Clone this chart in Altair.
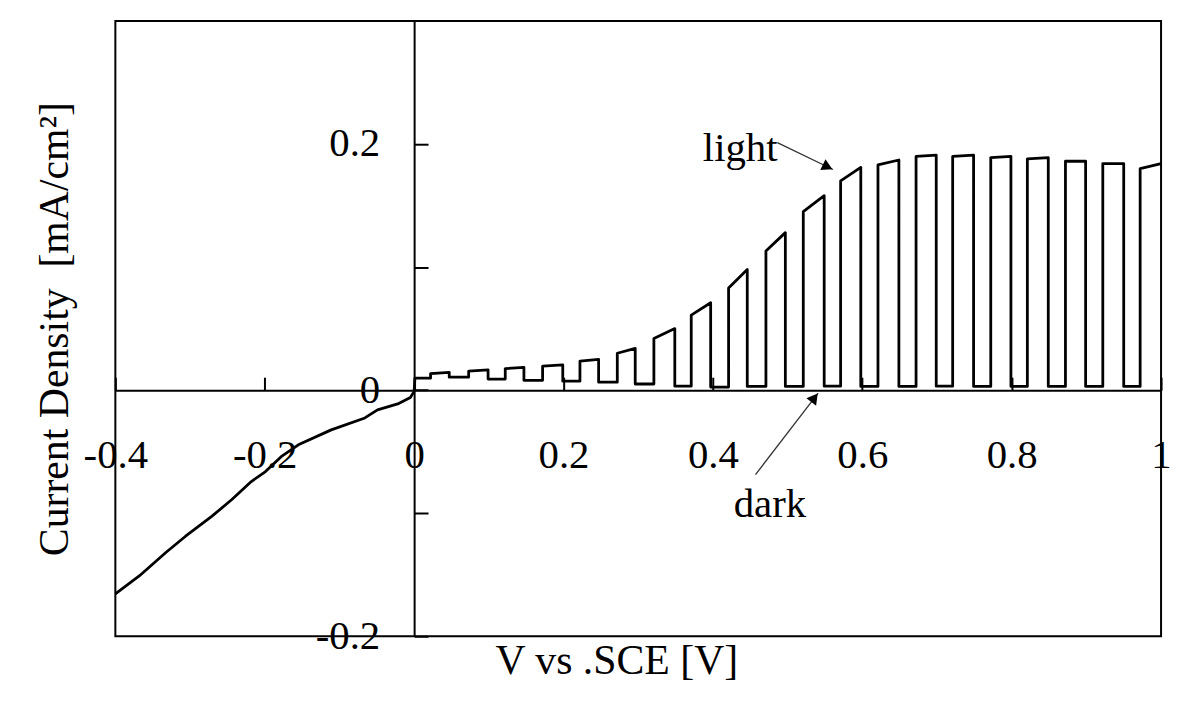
import altair as alt
import pandas as pd

# ---- data ----
# dark sweep below 0 V (continuous branch)
branch_v = [-0.400, -0.368, -0.332, -0.306, -0.271, -0.244, -0.218, -0.199, -0.178,
            -0.155, -0.111, -0.066, -0.049, -0.022, -0.005, 0.000, 0.001]
branch_j = [-0.1656, -0.151, -0.1317, -0.1187, -0.1026, -0.0889, -0.0743, -0.0662, -0.0541,
            -0.0444, -0.0323, -0.0226, -0.0160, -0.0112, -0.0060, -0.0010, 0.0097]

# chopped illumination: light-on / light-off voltages
light_on_v = [0.022, 0.073, 0.122, 0.172, 0.222, 0.272, 0.321, 0.371, 0.421, 0.471,
              0.521, 0.571, 0.621, 0.672, 0.721, 0.772, 0.821, 0.872, 0.922, 0.972]
light_off_v = [0.047, 0.099, 0.147, 0.199, 0.247, 0.296, 0.349, 0.397, 0.446, 0.497,
               0.549, 0.598, 0.649, 0.699, 0.749, 0.799, 0.849, 0.899, 0.950, 1.000]
light_start_j = [0.0135, 0.0155, 0.0175, 0.0195, 0.0235, 0.030, 0.042, 0.061, 0.083, 0.113,
                 0.145, 0.170, 0.183, 0.190, 0.190, 0.189, 0.188, 0.186, 0.184, 0.180]
light_end_j = [0.0145, 0.0165, 0.0185, 0.0205, 0.0250, 0.034, 0.050, 0.071, 0.098, 0.128,
               0.158, 0.181, 0.187, 0.191, 0.191, 0.190, 0.189, 0.186, 0.184, 0.184]
dark_j = [0.0097, 0.0105, 0.0090, 0.0080, 0.0073, 0.0065, 0.0050, 0.0032, 0.0025, 0.0030,
          0.0030, 0.0032, 0.0030, 0.0030, 0.0032, 0.0030, 0.0030, 0.0030, 0.0030, 0.0030]

x_ticks = [-0.4, -0.2, 0, 0.2, 0.4, 0.6, 0.8, 1.0]
y_ticks = [-0.2, -0.1, 0, 0.1, 0.2]

# annotations (data coordinates)
ann_text = ["light", "dark"]
ann_x = [0.3865, 0.4278]
ann_y = [0.1858, -0.1034]
arrow_x = [0.4863, 0.4570]
arrow_y = [0.2011, -0.0687]
arrow_x2 = [0.5608, 0.5409]
arrow_y2 = [0.1793, -0.0024]
head_x = [0.5536, 0.5360]
head_y = [0.1814, -0.0062]
head_angle = [25.7, 307.5]

# ---- build the polyline table ----
pts_v, pts_j = list(branch_v), list(branch_j)
for k in range(len(light_on_v)):
    pts_v += [light_on_v[k], light_on_v[k], light_off_v[k]]
    pts_j += [dark_j[k], light_start_j[k], light_end_j[k]]
    if k + 1 < len(dark_j):
        pts_v.append(light_off_v[k])
        pts_j.append(dark_j[k + 1])
curve = pd.DataFrame({"v": pts_v, "j": pts_j, "i": list(range(len(pts_v)))})

ann = pd.DataFrame({"t": ann_text, "x": ann_x, "y": ann_y})
arrows = pd.DataFrame({"x": arrow_x, "y": arrow_y, "x2": arrow_x2, "y2": arrow_y2})
heads = pd.DataFrame({"x": head_x, "y": head_y, "a": head_angle})

FONT = "Liberation Serif"
W, H = 1052, 619
X_DOM = [-0.4, 1.0]
Y_DOM = [-0.2, 0.3]

xscale = alt.Scale(domain=X_DOM, nice=False, zero=False)
yscale = alt.Scale(domain=Y_DOM, nice=False, zero=False)

x_axis = alt.Axis(
    values=x_ticks, orient="bottom", offset=-H * 0.4, grid=False,
    domainColor="black", domainWidth=2,
    tickColor="black", tickWidth=2, tickSize={"expr": "-13"},
    labelExpr="datum.value + ''", labelFont=FONT, labelFontSize=41, labelColor="black",
    labelPadding=90.6, labelBaseline="alphabetic", labelFlush=False, labelOverlap=False,
    title="V vs .SCE [V]", titleFont=FONT, titleFontSize=42, titleFontWeight="normal",
    titleColor="black", titleX=504, titleY=285, titleAlign="center", titleBaseline="alphabetic",
)
y_axis = alt.Axis(
    values=y_ticks, orient="left", offset=-W * 0.4 / 1.4, grid=False,
    domainColor="black", domainWidth=2,
    tickColor="black", tickWidth=2, tickSize={"expr": "-14"},
    labelExpr="(datum.value == 0.1 || datum.value == -0.1) ? '' : datum.value + ''",
    labelFont=FONT, labelFontSize=41, labelColor="black",
    labelPadding=48.6, labelAlign="right", labelBaseline="middle",
    labelFlush=False, labelOverlap=False,
    title="Current Density\u00a0 [mA/cm\u00b2]", titleFont=FONT, titleFontSize=42,
    titleFontWeight="normal", titleColor="black", titleAngle=270,
    titleX=-348.6, titleY=H / 2, titleAlign="center", titleBaseline="alphabetic",
)

line = alt.Chart(curve).mark_line(color="black", strokeWidth=2.8, strokeJoin="round").encode(
    x=alt.X("v:Q", scale=xscale, axis=x_axis),
    y=alt.Y("j:Q", scale=yscale, axis=y_axis),
    order="i:Q",
)

rules = alt.Chart(arrows).mark_rule(color="#333333", strokeWidth=1.3).encode(
    x=alt.X("x:Q", scale=xscale), y=alt.Y("y:Q", scale=yscale),
    x2="x2:Q", y2="y2:Q",
)

arrowheads = alt.Chart(heads).mark_point(
    shape="triangle-right", filled=True, color="black", size=150, opacity=1
).encode(
    x=alt.X("x:Q", scale=xscale), y=alt.Y("y:Q", scale=yscale),
    angle=alt.Angle("a:Q", scale=None),
)

labels = alt.Chart(ann).mark_text(
    font=FONT, fontSize=41, color="black", align="left", baseline="alphabetic"
).encode(
    x=alt.X("x:Q", scale=xscale), y=alt.Y("y:Q", scale=yscale), text="t:N",
)

chart = alt.layer(line, rules, arrowheads, labels).properties(
    width=W, height=H,
    autosize=alt.AutoSizeParams(type="none"),
    padding={"left": 108, "top": 11, "right": 10, "bottom": 47},
    background="white",
).configure_view(stroke="black", strokeWidth=2)

chart.save("out.html", embed_options={"renderer": "svg", "actions": False})
